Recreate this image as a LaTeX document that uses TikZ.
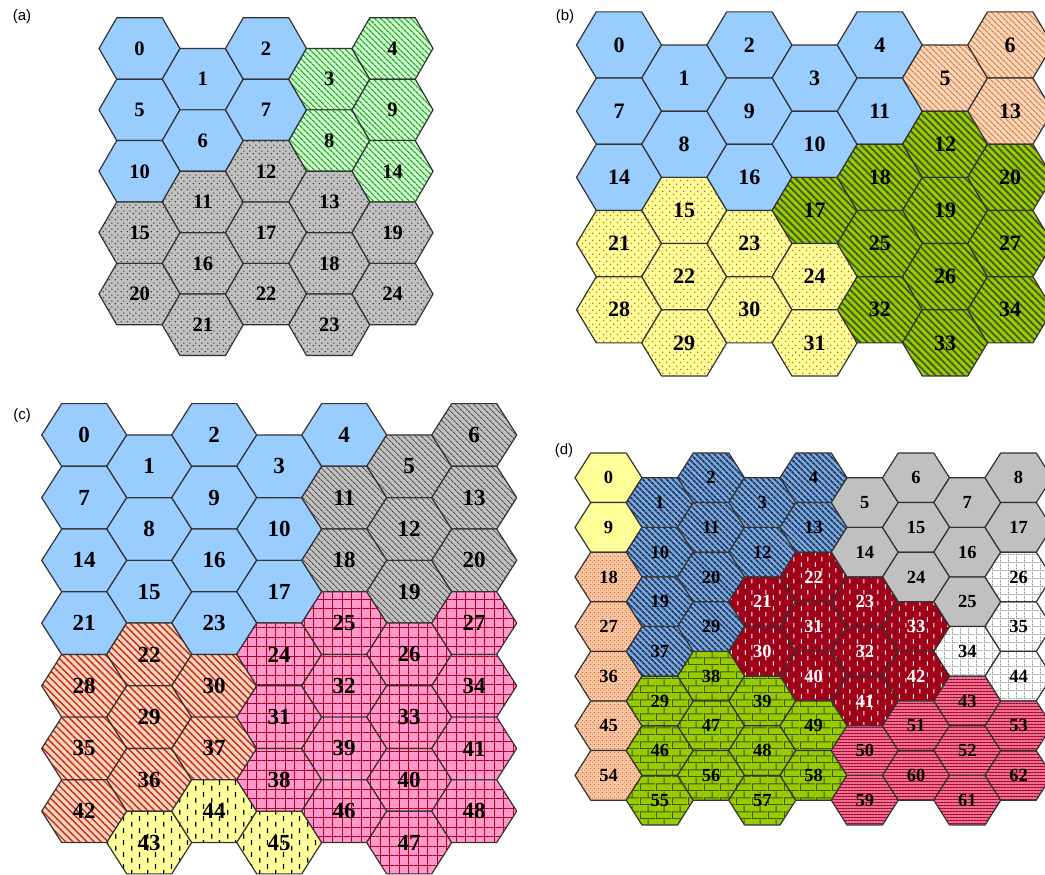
\documentclass[tikz,border=0pt]{standalone}
\usepackage{fontspec}
\setmainfont{Liberation Serif}
\newfontfamily\sansf{Liberation Sans}
\usetikzlibrary{patterns,patterns.meta}

\definecolor{cblue}{HTML}{99CCFF}
\definecolor{cgreenbg}{HTML}{CCFFCC}
\definecolor{cgreenln}{HTML}{2E9E2E}
\definecolor{cgray}{HTML}{C0C0C0}
\definecolor{corbg}{HTML}{FCD5B4}
\definecolor{corln}{HTML}{C97A4A}
\definecolor{colive}{HTML}{99CC00}
\definecolor{coliveln}{HTML}{44591A}
\definecolor{cyellow}{HTML}{FFFF99}
\definecolor{cyeldot}{HTML}{E0601A}
\definecolor{cor2ln}{HTML}{C0282A}
\definecolor{cgrayln}{HTML}{505050}
\definecolor{cpink}{HTML}{FF99CC}
\definecolor{cpinkln}{HTML}{B00020}
\definecolor{cdblue}{HTML}{7FA8DA}
\definecolor{cdblueln}{HTML}{1F3D6B}
\definecolor{cdred}{HTML}{A00018}
\definecolor{cdor}{HTML}{F9C8A0}
\definecolor{cdordot}{HTML}{D03020}
\definecolor{cbrick}{HTML}{3E5A08}
\definecolor{ccrim}{HTML}{EE6F8E}
\definecolor{ccrimln}{HTML}{A00030}
\definecolor{cdgrid}{HTML}{909090}

\pgfdeclarepattern{
  name=dotsA,
  bottom left={\pgfpointorigin},
  top right={\pgfpoint{6pt}{6pt}},
  tile size={\pgfpoint{6pt}{6pt}},
  code={
    \pgfpathcircle{\pgfpoint{1.5pt}{1.5pt}}{0.7pt}
    \pgfpathcircle{\pgfpoint{4.5pt}{4.5pt}}{0.7pt}
    \pgfusepath{fill}
  }
}
\pgfdeclarepattern{
  name=dotsB,
  bottom left={\pgfpointorigin},
  top right={\pgfpoint{7pt}{7pt}},
  tile size={\pgfpoint{7pt}{7pt}},
  code={
    \pgfpathcircle{\pgfpoint{1.75pt}{1.75pt}}{0.95pt}
    \pgfpathcircle{\pgfpoint{5.25pt}{5.25pt}}{0.95pt}
    \pgfusepath{fill}
  }
}
\pgfdeclarepattern{
  name=dotsD,
  bottom left={\pgfpointorigin},
  top right={\pgfpoint{4pt}{4pt}},
  tile size={\pgfpoint{4pt}{4pt}},
  code={
    \pgfpathcircle{\pgfpoint{1pt}{1pt}}{0.6pt}
    \pgfpathcircle{\pgfpoint{3pt}{3pt}}{0.6pt}
    \pgfusepath{fill}
  }
}
\pgfdeclarepattern{
  name=dashA,
  bottom left={\pgfpointorigin},
  top right={\pgfpoint{16pt}{12pt}},
  tile size={\pgfpoint{16pt}{12pt}},
  code={
    \pgfsetlinewidth{1.3pt}
    \pgfpathmoveto{\pgfpoint{4pt}{0.5pt}}\pgfpathlineto{\pgfpoint{4pt}{5.5pt}}
    \pgfpathmoveto{\pgfpoint{12pt}{6.5pt}}\pgfpathlineto{\pgfpoint{12pt}{11.5pt}}
    \pgfusepath{stroke}
  }
}
\pgfdeclarepattern{
  name=dashD,
  bottom left={\pgfpointorigin},
  top right={\pgfpoint{14pt}{11pt}},
  tile size={\pgfpoint{14pt}{11pt}},
  code={
    \pgfsetlinewidth{1.1pt}
    \pgfpathmoveto{\pgfpoint{3.5pt}{0.5pt}}\pgfpathlineto{\pgfpoint{3.5pt}{5pt}}
    \pgfpathmoveto{\pgfpoint{10.5pt}{6pt}}\pgfpathlineto{\pgfpoint{10.5pt}{10.5pt}}
    \pgfusepath{stroke}
  }
}
\pgfdeclarepattern{
  name=bricksD,
  bottom left={\pgfpointorigin},
  top right={\pgfpoint{16pt}{14pt}},
  tile size={\pgfpoint{16pt}{14pt}},
  code={
    \pgfsetlinewidth{0.9pt}
    \pgfpathmoveto{\pgfpoint{0pt}{0.5pt}}\pgfpathlineto{\pgfpoint{16pt}{0.5pt}}
    \pgfpathmoveto{\pgfpoint{0pt}{7.5pt}}\pgfpathlineto{\pgfpoint{16pt}{7.5pt}}
    \pgfpathmoveto{\pgfpoint{0.5pt}{0.5pt}}\pgfpathlineto{\pgfpoint{0.5pt}{7.5pt}}
    \pgfpathmoveto{\pgfpoint{8.5pt}{7.5pt}}\pgfpathlineto{\pgfpoint{8.5pt}{14pt}}
    \pgfusepath{stroke}
  }
}
\pgfdeclarepattern{
  name=dgridD,
  bottom left={\pgfpointorigin},
  top right={\pgfpoint{8pt}{8pt}},
  tile size={\pgfpoint{8pt}{8pt}},
  code={
    \pgfsetlinewidth{0.7pt}
    \pgfpathmoveto{\pgfpoint{0pt}{0.5pt}}\pgfpathlineto{\pgfpoint{1.2pt}{0.5pt}}
    \pgfpathmoveto{\pgfpoint{2pt}{0.5pt}}\pgfpathlineto{\pgfpoint{3.2pt}{0.5pt}}
    \pgfpathmoveto{\pgfpoint{4pt}{0.5pt}}\pgfpathlineto{\pgfpoint{5.2pt}{0.5pt}}
    \pgfpathmoveto{\pgfpoint{6pt}{0.5pt}}\pgfpathlineto{\pgfpoint{7.2pt}{0.5pt}}
    \pgfpathmoveto{\pgfpoint{0.5pt}{0pt}}\pgfpathlineto{\pgfpoint{0.5pt}{1.2pt}}
    \pgfpathmoveto{\pgfpoint{0.5pt}{2pt}}\pgfpathlineto{\pgfpoint{0.5pt}{3.2pt}}
    \pgfpathmoveto{\pgfpoint{0.5pt}{4pt}}\pgfpathlineto{\pgfpoint{0.5pt}{5.2pt}}
    \pgfpathmoveto{\pgfpoint{0.5pt}{6pt}}\pgfpathlineto{\pgfpoint{0.5pt}{7.2pt}}
    \pgfusepath{stroke}
  }
}

\tikzset{
  hexline/.style={draw=black!80,line width=1.2pt,line join=round},
  lab/.style={inner sep=0pt,font=\bfseries\fontsize{\pFS}{\pFS}\selectfont},
  wlab/.style={text=white},
  plab/.style={inner sep=0pt,font=\sansf\fontsize{15}{15}\selectfont},
  fblue/.style={fill=cblue},
  fgreenA/.style={preaction={fill=cgreenbg},pattern={Lines[angle=-45,distance=4pt,line width=1.3pt]},pattern color=cgreenln},
  fgrayA/.style={preaction={fill=cgray},pattern=dotsA,pattern color=black},
  forB/.style={preaction={fill=corbg},pattern={Lines[angle=-45,distance=4pt,line width=1.2pt]},pattern color=corln},
  foliveB/.style={preaction={fill=colive},pattern={Lines[angle=-45,distance=5pt,line width=1.8pt]},pattern color=coliveln},
  fyelB/.style={preaction={fill=cyellow},pattern=dotsB,pattern color=cyeldot},
  forC/.style={preaction={fill=corbg},pattern={Lines[angle=-45,distance=5pt,line width=1.4pt]},pattern color=cor2ln},
  fgrayC/.style={preaction={fill=cgray},pattern={Lines[angle=-45,distance=4pt,line width=1pt]},pattern color=cgrayln},
  fyelC/.style={preaction={fill=cyellow},pattern=dashA,pattern color=black},
  fpinkC/.style={preaction={fill=cpink},pattern={Hatch[angle=0,distance=9.5pt,line width=1pt]},pattern color=cpinkln},
  fyelD/.style={fill=cyellow},
  fblueD/.style={preaction={fill=cdblue},pattern={Lines[angle=-45,distance=4pt,line width=1.8pt]},pattern color=cdblueln},
  fgrayD/.style={fill=cgray},
  fwhiteD/.style={preaction={fill=white},pattern=dgridD,pattern color=cdgrid},
  fredD/.style={preaction={fill=cdred},pattern=dashD,pattern color=white},
  forD/.style={preaction={fill=cdor},pattern=dotsD,pattern color=cdordot},
  fgreenD/.style={preaction={fill=colive},pattern=bricksD,pattern color=cbrick},
  fcrimD/.style={preaction={fill=ccrim},pattern={Lines[angle=0,distance=3pt,line width=1pt]},pattern color=ccrimln},
}

% panel setup: ncols, x0, dx, y0, dy, half-width, font size, prefix
\newcommand\setpanel[8]{\def\pN{#1}\def\pX{#2}\def\pDX{#3}\def\pY{#4}\def\pDY{#5}\def\pHA{#6}\def\pFS{#7}\def\pP{#8}}
\newcommand\hexat[2]{%
  \pgfmathtruncatemacro\cc{mod(#1,\pN)}%
  \pgfmathtruncatemacro\rr{div(#1,\pN)}%
  \pgfmathsetmacro\cx{\pX+\pDX*\cc}%
  \pgfmathsetmacro\cy{875-(\pY+\pDY*\rr+0.5*\pDY*mod(\cc,2))}%
  \pgfmathsetmacro\hb{\pDX-\pHA}%
  \pgfmathsetmacro\hh{\pDY/2}%
  \draw[hexline,#2] (\cx-\pHA,\cy) -- (\cx-\hb,\cy+\hh) -- (\cx+\hb,\cy+\hh) -- (\cx+\pHA,\cy) -- (\cx+\hb,\cy-\hh) -- (\cx-\hb,\cy-\hh) -- cycle;}
\newcommand\cells[3]{%
  \foreach \i in {#1} {%
    \hexat{\i}{#2}%
    \node[lab,#3] (\pP\i) at (\cx,\cy) {\i};
  }}
\newcommand\cellL[4]{%
  \hexat{#1}{#2}%
  \node[lab,#3] (\pP#1) at (\cx,\cy) {#4};}

\begin{document}
\begin{tikzpicture}[x=1pt,y=1pt]
\useasboundingbox (0,0) rectangle (1045,875);
\clip (0,0) rectangle (1045,875);
\fill[white] (0,0) rectangle (1045,875);

% ---------- (a)
\setpanel{5}{139.5}{63.25}{48.5}{61.4}{40.5}{20.5}{a}
\cells{0,1,2,5,6,7,10}{fblue}{}
\cells{3,4,8,9,14}{fgreenA}{}
\cells{11,12,13,15,16,17,18,19,20,21,22,23,24}{fgrayA}{}
\node[plab] (pa) at (22,858) {(a)};

% ---------- (b)
\setpanel{7}{619}{65.2}{45}{66.2}{42.5}{22}{b}
\cells{0,1,2,3,4,7,8,9,10,11,14,16}{fblue}{}
\cells{5,6,13}{forB}{}
\cells{12,17,18,19,20,25,26,27,32,33,34}{foliveB}{}
\cells{15,21,22,23,24,28,29,30,31}{fyelB}{}
\node[plab] (pb) at (565,858) {(b)};

% ---------- (c)
\setpanel{7}{84.2}{65}{435}{62.7}{42.5}{23}{c}
\cells{0,1,2,3,4,7,8,9,10,14,15,16,17,21,23}{fblue}{}
\cells{5,6,11,12,13,18,19,20}{fgrayC}{}
\cells{22,28,29,30,35,36,37,42}{forC}{}
\cells{43,44,45}{fyelC}{}
\cells{24,25,26,27,31,32,33,34,38,39,40,41,46,47,48}{fpinkC}{}
\node[plab] (pc) at (22,459) {(c)};

% ---------- (d)
\setpanel{9}{608.5}{51.25}{477.8}{49.6}{33.5}{18.5}{d}
\cells{0,9}{fyelD}{}
\cells{1,2,3,4,10,11,12,13,19,20,29}{fblueD}{}
\cellL{28}{fblueD}{}{37}
\cells{5,6,7,8,14,15,16,17,24,25}{fgrayD}{}
\cells{26,34,35,44}{fwhiteD}{}
\cells{21,22,23,30,31,32,33,40,41,42}{fredD}{wlab}
\cells{18,27,36,45,54}{forD}{}
\cells{38,39,46,47,48,49,55,56,57,58}{fgreenD}{}
\cellL{37}{fgreenD}{}{29}
\cells{43,50,51,52,53,59,60,61,62}{fcrimD}{}
\node[plab] (pd) at (564,424) {(d)};
\end{tikzpicture}
\end{document}
